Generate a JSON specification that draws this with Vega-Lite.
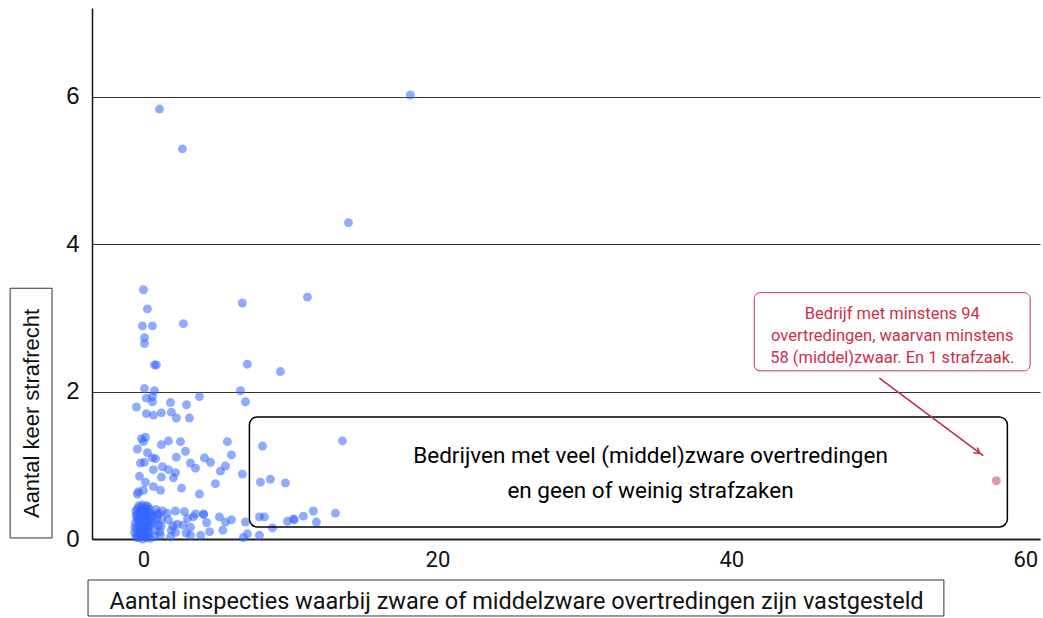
{
  "$schema": "https://vega.github.io/schema/vega-lite/v6.json",
  "width": 948,
  "height": 531,
  "autosize": {"type": "none"},
  "padding": {"left": 92, "top": 8, "right": 3, "bottom": 79},
  "background": "white",
  "config": {"view": {"stroke": null}},
  "data": {"values": [
    {"x": 1.09, "y": 5.83, "t": "a"}, {"x": 2.65, "y": 5.29, "t": "a"}, {"x": 18.16, "y": 6.02, "t": "a"}, {"x": 13.95, "y": 4.29, "t": "a"},
    {"x": 0.0, "y": 3.38, "t": "a"}, {"x": 0.27, "y": 3.12, "t": "a"}, {"x": -0.07, "y": 2.89, "t": "a"}, {"x": 0.61, "y": 2.89, "t": "a"},
    {"x": 0.07, "y": 2.73, "t": "a"}, {"x": 0.07, "y": 2.65, "t": "a"}, {"x": 0.75, "y": 2.36, "t": "a"}, {"x": 0.88, "y": 2.36, "t": "a"},
    {"x": 2.72, "y": 2.92, "t": "a"}, {"x": 6.73, "y": 3.2, "t": "a"}, {"x": 11.16, "y": 3.28, "t": "a"}, {"x": 7.07, "y": 2.37, "t": "a"},
    {"x": 9.32, "y": 2.27, "t": "a"}, {"x": 6.6, "y": 2.01, "t": "a"}, {"x": 6.94, "y": 1.86, "t": "a"}, {"x": 0.07, "y": 2.04, "t": "a"},
    {"x": 0.75, "y": 2.01, "t": "a"}, {"x": 0.2, "y": 1.91, "t": "a"}, {"x": 0.61, "y": 1.93, "t": "a"}, {"x": 0.61, "y": 1.86, "t": "a"},
    {"x": -0.48, "y": 1.79, "t": "a"}, {"x": 1.84, "y": 1.85, "t": "a"}, {"x": 2.93, "y": 1.82, "t": "a"}, {"x": 3.81, "y": 1.93, "t": "a"},
    {"x": 0.2, "y": 1.7, "t": "a"}, {"x": 0.68, "y": 1.68, "t": "a"}, {"x": 1.22, "y": 1.71, "t": "a"}, {"x": 1.9, "y": 1.72, "t": "a"},
    {"x": 2.24, "y": 1.64, "t": "a"}, {"x": 3.13, "y": 1.64, "t": "a"}, {"x": 13.54, "y": 1.33, "t": "a"}, {"x": 8.1, "y": 1.26, "t": "a"},
    {"x": -0.14, "y": 1.36, "t": "a"}, {"x": 0.0, "y": 1.32, "t": "a"}, {"x": 0.14, "y": 1.38, "t": "a"}, {"x": -0.41, "y": 1.22, "t": "a"},
    {"x": 0.27, "y": 1.17, "t": "a"}, {"x": 0.07, "y": 1.04, "t": "a"}, {"x": -0.2, "y": 1.03, "t": "a"}, {"x": -0.27, "y": 0.85, "t": "a"},
    {"x": 0.14, "y": 0.77, "t": "a"}, {"x": 0.68, "y": 0.71, "t": "a"}, {"x": -0.34, "y": 0.64, "t": "a"}, {"x": 0.0, "y": 0.66, "t": "a"},
    {"x": -0.41, "y": 0.61, "t": "a"}, {"x": 1.16, "y": 0.66, "t": "a"}, {"x": 1.22, "y": 1.28, "t": "a"}, {"x": 1.7, "y": 1.33, "t": "a"},
    {"x": 2.52, "y": 1.32, "t": "a"}, {"x": 2.86, "y": 1.19, "t": "a"}, {"x": 2.24, "y": 1.11, "t": "a"}, {"x": 0.61, "y": 1.1, "t": "a"},
    {"x": 0.82, "y": 1.09, "t": "a"}, {"x": 0.68, "y": 0.94, "t": "a"}, {"x": 1.29, "y": 0.98, "t": "a"}, {"x": 1.22, "y": 0.84, "t": "a"},
    {"x": 2.04, "y": 0.83, "t": "a"}, {"x": 1.7, "y": 0.94, "t": "a"}, {"x": 2.18, "y": 0.9, "t": "a"}, {"x": 3.2, "y": 1.03, "t": "a"},
    {"x": 3.54, "y": 0.96, "t": "a"}, {"x": 4.15, "y": 1.1, "t": "a"}, {"x": 4.56, "y": 1.04, "t": "a"}, {"x": 2.59, "y": 0.69, "t": "a"},
    {"x": 3.81, "y": 0.61, "t": "a"}, {"x": 4.9, "y": 0.75, "t": "a"}, {"x": 5.24, "y": 0.92, "t": "a"}, {"x": 5.58, "y": 0.99, "t": "a"},
    {"x": 5.99, "y": 1.14, "t": "a"}, {"x": 5.71, "y": 1.32, "t": "a"}, {"x": 6.73, "y": 0.88, "t": "a"}, {"x": 7.96, "y": 0.77, "t": "a"},
    {"x": 8.64, "y": 0.81, "t": "a"}, {"x": 9.66, "y": 0.76, "t": "a"},
    {"x": -0.5, "y": 0.05, "t": "a"}, {"x": -0.3, "y": 0.02, "t": "a"}, {"x": -0.1, "y": 0.08, "t": "a"}, {"x": 0.1, "y": 0.03, "t": "a"},
    {"x": 0.3, "y": 0.06, "t": "a"}, {"x": 0.45, "y": 0.01, "t": "a"}, {"x": -0.45, "y": 0.14, "t": "a"}, {"x": -0.2, "y": 0.12, "t": "a"},
    {"x": 0.05, "y": 0.16, "t": "a"}, {"x": 0.25, "y": 0.11, "t": "a"}, {"x": 0.4, "y": 0.18, "t": "a"}, {"x": -0.55, "y": 0.22, "t": "a"},
    {"x": -0.35, "y": 0.25, "t": "a"}, {"x": -0.1, "y": 0.21, "t": "a"}, {"x": 0.15, "y": 0.27, "t": "a"}, {"x": 0.35, "y": 0.24, "t": "a"},
    {"x": -0.5, "y": 0.32, "t": "a"}, {"x": -0.25, "y": 0.35, "t": "a"}, {"x": 0.0, "y": 0.31, "t": "a"}, {"x": 0.2, "y": 0.38, "t": "a"},
    {"x": 0.45, "y": 0.33, "t": "a"}, {"x": -0.4, "y": 0.41, "t": "a"}, {"x": -0.15, "y": 0.43, "t": "a"}, {"x": 0.1, "y": 0.4, "t": "a"},
    {"x": 0.3, "y": 0.44, "t": "a"}, {"x": -0.6, "y": 0.09, "t": "a"}, {"x": 0.5, "y": 0.29, "t": "a"}, {"x": -0.05, "y": 0.37, "t": "a"},
    {"x": 0.22, "y": 0.19, "t": "a"}, {"x": -0.28, "y": 0.18, "t": "a"}, {"x": 0.38, "y": 0.1, "t": "a"}, {"x": -0.42, "y": 0.28, "t": "a"},
    {"x": 0.12, "y": 0.08, "t": "a"}, {"x": -0.18, "y": 0.29, "t": "a"}, {"x": 0.05, "y": 0.24, "t": "a"}, {"x": -0.35, "y": 0.07, "t": "a"},
    {"x": 0.28, "y": 0.31, "t": "a"}, {"x": -0.05, "y": 0.0, "t": "a"}, {"x": 0.42, "y": 0.4, "t": "a"}, {"x": -0.22, "y": 0.05, "t": "a"},
    {"x": -0.52, "y": 0.38, "t": "a"}, {"x": -0.32, "y": 0.45, "t": "a"}, {"x": -0.08, "y": 0.46, "t": "a"}, {"x": 0.18, "y": 0.45, "t": "a"},
    {"x": -0.58, "y": 0.16, "t": "a"}, {"x": -0.38, "y": 0.34, "t": "a"}, {"x": -0.12, "y": 0.15, "t": "a"}, {"x": 0.08, "y": 0.34, "t": "a"},
    {"x": 0.32, "y": 0.16, "t": "a"}, {"x": 0.48, "y": 0.22, "t": "a"}, {"x": -0.25, "y": 0.26, "t": "a"}, {"x": 0.02, "y": 0.12, "t": "a"},
    {"x": -0.45, "y": 0.02, "t": "a"}, {"x": 0.2, "y": 0.02, "t": "a"}, {"x": 0.38, "y": 0.36, "t": "a"}, {"x": -0.15, "y": 0.38, "t": "a"},
    {"x": 1.02, "y": 0.35, "t": "a"}, {"x": 0.95, "y": 0.33, "t": "a"}, {"x": 1.02, "y": 0.19, "t": "a"}, {"x": 1.16, "y": 0.05, "t": "a"},
    {"x": 0.8, "y": 0.12, "t": "a"}, {"x": 1.25, "y": 0.27, "t": "a"}, {"x": 0.7, "y": 0.22, "t": "a"}, {"x": 1.1, "y": 0.1, "t": "a"},
    {"x": 0.85, "y": 0.4, "t": "a"}, {"x": 1.3, "y": 0.38, "t": "a"}, {"x": 0.75, "y": 0.03, "t": "a"}, {"x": 0.9, "y": 0.27, "t": "a"},
    {"x": 1.2, "y": 0.17, "t": "a"}, {"x": 0.65, "y": 0.32, "t": "a"},
    {"x": 1.7, "y": 0.26, "t": "a"}, {"x": 2.18, "y": 0.38, "t": "a"}, {"x": 2.18, "y": 0.09, "t": "a"}, {"x": 1.84, "y": 0.03, "t": "a"},
    {"x": 2.0, "y": 0.18, "t": "a"}, {"x": 1.6, "y": 0.35, "t": "a"}, {"x": 2.3, "y": 0.2, "t": "a"}, {"x": 1.9, "y": 0.12, "t": "a"},
    {"x": 2.79, "y": 0.37, "t": "a"}, {"x": 2.72, "y": 0.19, "t": "a"}, {"x": 3.2, "y": 0.16, "t": "a"}, {"x": 3.2, "y": 0.05, "t": "a"},
    {"x": 3.0, "y": 0.28, "t": "a"}, {"x": 2.9, "y": 0.08, "t": "a"}, {"x": 3.4, "y": 0.3, "t": "a"},
    {"x": 3.54, "y": 0.34, "t": "a"}, {"x": 4.08, "y": 0.34, "t": "a"}, {"x": 4.3, "y": 0.22, "t": "a"}, {"x": 4.5, "y": 0.1, "t": "a"},
    {"x": 3.9, "y": 0.05, "t": "a"}, {"x": 4.1, "y": 0.33, "t": "a"},
    {"x": 5.17, "y": 0.3, "t": "a"}, {"x": 5.58, "y": 0.23, "t": "a"}, {"x": 5.99, "y": 0.26, "t": "a"}, {"x": 5.4, "y": 0.12, "t": "a"},
    {"x": 6.94, "y": 0.23, "t": "a"}, {"x": 7.07, "y": 0.07, "t": "a"}, {"x": 6.8, "y": 0.02, "t": "a"},
    {"x": 7.89, "y": 0.3, "t": "a"}, {"x": 8.23, "y": 0.3, "t": "a"}, {"x": 8.78, "y": 0.15, "t": "a"}, {"x": 7.89, "y": 0.05, "t": "a"},
    {"x": 9.8, "y": 0.24, "t": "a"}, {"x": 10.2, "y": 0.27, "t": "a"}, {"x": 10.27, "y": 0.26, "t": "a"}, {"x": 10.88, "y": 0.31, "t": "a"},
    {"x": 11.56, "y": 0.38, "t": "a"}, {"x": 11.77, "y": 0.23, "t": "a"}, {"x": 13.06, "y": 0.35, "t": "a"},
    {"x": 58.03, "y": 0.79, "t": "b"}
  ]},
  "layer": [
    {
      "data": {"values": [{}]},
      "mark": {"type": "rect", "fill": null, "fillOpacity": 0, "stroke": "#333333", "strokeWidth": 1, "clip": false},
      "encoding": {
        "x": {"datum": -3.77, "type": "quantitative", "scale": {"domain": [-3.5, 61]}},
        "x2": {"datum": 54.46},
        "y": {"datum": -0.556, "type": "quantitative", "scale": {"domain": [0, 7.2]}},
        "y2": {"datum": -1.044}
      }
    },
    {
      "data": {"values": [{}]},
      "mark": {"type": "rect", "fill": null, "fillOpacity": 0, "stroke": "#333333", "strokeWidth": 1, "clip": false},
      "encoding": {
        "x": {"datum": -9.07, "type": "quantitative"},
        "x2": {"datum": -6.22},
        "y": {"datum": 3.40, "type": "quantitative"},
        "y2": {"datum": 0.014}
      }
    },
    {
      "mark": {"type": "circle", "size": 80, "opacity": 0.55},
      "encoding": {
        "x": {
          "field": "x", "type": "quantitative",
          "scale": {"domain": [-3.5, 61], "nice": false, "zero": false},
          "axis": {
            "values": [0, 20, 40, 60], "format": "d",
            "grid": false, "ticks": false,
            "domainColor": "#222222", "domainWidth": 2,
            "labelFont": "Roboto, sans-serif", "labelFontSize": 22, "labelColor": "#111111", "labelPadding": 10,
            "title": "Aantal inspecties waarbij zware of middelzware overtredingen zijn vastgesteld",
            "titleFont": "Roboto, sans-serif", "titleFontSize": 23.5, "titleFontWeight": "normal", "titleColor": "#111111",
            "titleX": 424, "titleY": 62, "titleAlign": "center", "titleBaseline": "middle"
          }
        },
        "y": {
          "field": "y", "type": "quantitative",
          "scale": {"domain": [0, 7.2], "nice": false},
          "axis": {
            "values": [0, 2, 4, 6], "format": "d",
            "grid": true, "gridColor": "#333333", "gridWidth": 1, "gridOpacity": 1,
            "ticks": false,
            "domainColor": "#111111", "domainWidth": 1.5,
            "labelFont": "Liberation Sans, Arial, sans-serif", "labelFontSize": 24, "labelColor": "#111111", "labelPadding": 13,
            "title": "Aantal keer strafrecht",
            "titleFont": "Liberation Sans, Arial, sans-serif", "titleFontSize": 22, "titleFontWeight": "normal", "titleColor": "#111111",
            "titleX": -61, "titleY": 405, "titleAngle": 270, "titleAlign": "center", "titleBaseline": "middle"
          }
        },
        "color": {"field": "t", "type": "nominal", "scale": {"domain": ["a", "b"], "range": ["#3366ff", "#d4405c"]}, "legend": null}
      }
    },
    {
      "data": {"values": [{}]},
      "mark": {"type": "rect", "fill": null, "fillOpacity": 0, "stroke": "black", "strokeWidth": 1.5, "cornerRadius": 8},
      "encoding": {
        "x": {"datum": 7.21, "type": "quantitative"},
        "x2": {"datum": 58.78},
        "y": {"datum": 1.655, "type": "quantitative"},
        "y2": {"datum": 0.163}
      }
    },
    {
      "data": {"values": [{}]},
      "mark": {"type": "text", "text": ["Bedrijven met veel (middel)zware overtredingen", "en geen of weinig strafzaken"], "font": "Roboto", "fontSize": 22.5, "lineHeight": 35, "align": "center", "baseline": "middle", "color": "black"},
      "encoding": {
        "x": {"datum": 34.5, "type": "quantitative"},
        "y": {"datum": 1.12, "type": "quantitative"}
      }
    },
    {
      "data": {"values": [{}]},
      "mark": {"type": "rect", "fill": "white", "stroke": "#cc2f4a", "strokeWidth": 1, "cornerRadius": 6},
      "encoding": {
        "x": {"datum": 41.56, "type": "quantitative"},
        "x2": {"datum": 60.33},
        "y": {"datum": 3.34, "type": "quantitative"},
        "y2": {"datum": 2.28}
      }
    },
    {
      "data": {"values": [{}]},
      "mark": {"type": "text", "text": ["Bedrijf met minstens 94", "overtredingen, waarvan minstens", "58 (middel)zwaar. En 1 strafzaak."], "font": "Roboto", "fontSize": 16.5, "lineHeight": 22, "align": "center", "baseline": "middle", "color": "#cc2f4a"},
      "encoding": {
        "x": {"datum": 50.95, "type": "quantitative"},
        "y": {"datum": 3.05, "type": "quantitative"}
      }
    },
    {
      "data": {"values": [{}]},
      "mark": {"type": "rule", "color": "#c0283f", "strokeWidth": 1.5},
      "encoding": {
        "x": {"datum": 50.07, "type": "quantitative"},
        "x2": {"datum": 57.14},
        "y": {"datum": 2.18, "type": "quantitative"},
        "y2": {"datum": 1.13}
      }
    },
    {
      "data": {"values": [{}]},
      "mark": {"type": "point", "shape": "M -1 -0.6 L 0 0 L -1 0.6", "filled": false, "stroke": "#c0283f", "strokeWidth": 1.5, "size": 120, "angle": 37, "opacity": 1},
      "encoding": {
        "x": {"datum": 56.9, "type": "quantitative"},
        "y": {"datum": 1.16, "type": "quantitative"}
      }
    }
  ]
}
